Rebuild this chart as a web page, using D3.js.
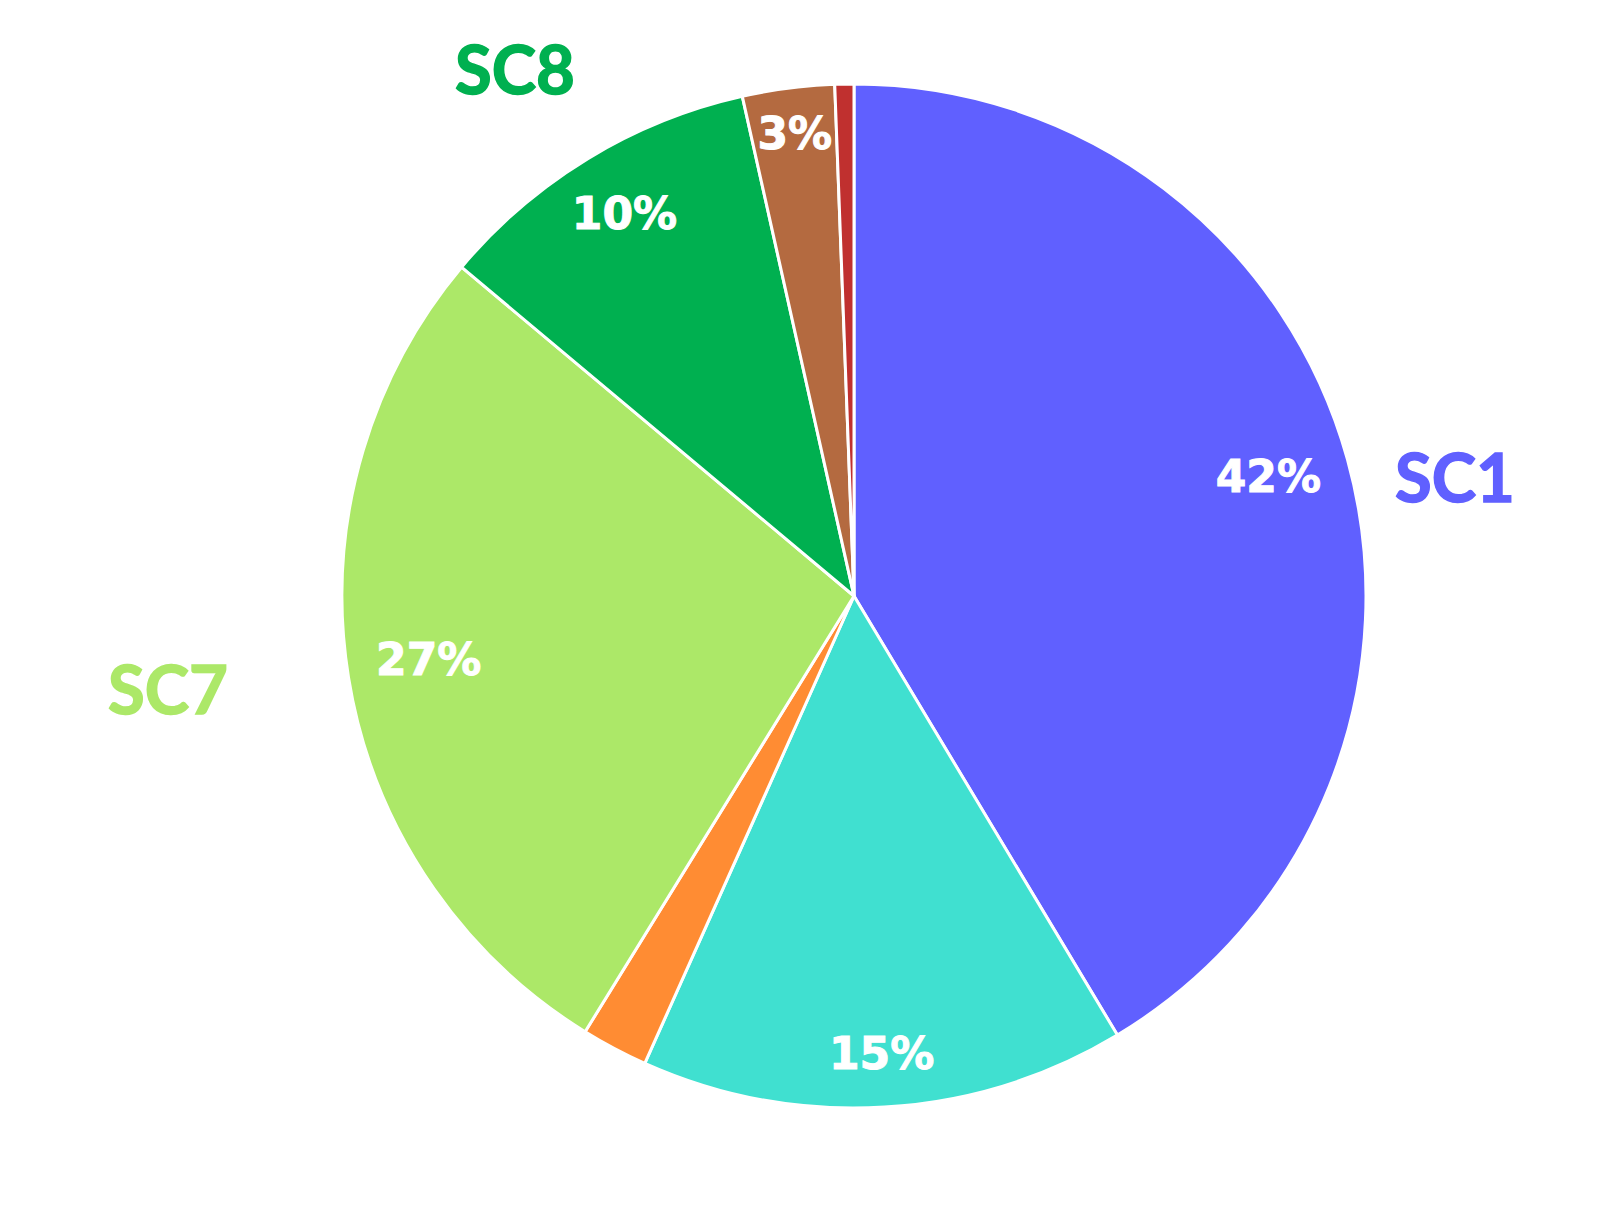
<!DOCTYPE html>
<html>
<head>
<meta charset="utf-8">
<script src="https://cdn.jsdelivr.net/npm/d3@7"></script>
<style>
  body { margin: 0; background: #fff; }
</style>
</head>
<body>
<div id="chart"></div>
<script>
var svgWidth = 1616;
var svgHeight = 1213;

// slice data, clockwise from 12 o'clock
var categories = ["SC1", "SC2", "SC3", "SC7", "SC8", "SC4", "SC5"];
var values = [41.4, 15.3, 2.1, 27.3, 10.4, 2.9, 0.6];
var pctLabels = ["42%", "15%", "", "27%", "10%", "3%", ""];
var colors = ["#6060FF", "#40E0D0", "#FF8C33", "#ACE868", "#00B050", "#B46A40", "#C0302F"];

// category names shown outside the pie
var outerNames = ["SC1", "SC7", "SC8"];
var outerPos = [[1455, 476], [168, 688], [515, 68]];

var cx = 854, cy = 596, radius = 512;

var svg = d3.select("#chart")
    .append("svg")
    .attr("width", svgWidth)
    .attr("height", svgHeight);

var g = svg.append("g")
    .attr("transform", `translate(${cx}, ${cy})`);

var data = categories.map(function(c, i) {
    return { name: c, value: values[i], label: pctLabels[i], color: colors[i] };
});

var pie = d3.pie()
    .value(d => d.value)
    .sort(null);

var arc = d3.arc()
    .innerRadius(0)
    .outerRadius(radius);

var arcs = pie(data);

g.selectAll("path")
    .data(arcs)
    .enter()
    .append("path")
    .attr("d", arc)
    .attr("fill", d => d.data.color)
    .attr("stroke", "#fff")
    .attr("stroke-width", 3)
    .attr("stroke-linejoin", "round");

// "inside end" labels: push each label out along the mid angle
// until its box touches the rim (minus a little padding)
var pad = 26, halfH = 20;
g.selectAll("text.pct")
    .data(arcs)
    .enter()
    .append("text")
    .attr("class", "pct")
    .attr("text-anchor", "middle")
    .attr("dominant-baseline", "central")
    .attr("font-family", "DejaVu Sans, Verdana, sans-serif")
    .attr("font-weight", "bold")
    .attr("font-size", "44px")
    .attr("fill", "#fff")
    .attr("stroke", "#fff")
    .attr("stroke-width", 1)
    .text(d => d.data.label)
    .each(function(d) {
        var a = (d.startAngle + d.endAngle) / 2;
        var halfW = this.getComputedTextLength() / 2;
        var dist = radius - pad - (halfW * Math.abs(Math.sin(a)) + halfH * Math.abs(Math.cos(a)));
        d3.select(this).attr("transform",
            `translate(${dist * Math.sin(a)}, ${-dist * Math.cos(a) - 5})`);
    });

// outer category names
svg.selectAll("text.name")
    .data(outerNames)
    .enter()
    .append("text")
    .attr("class", "name")
    .attr("x", (d, i) => outerPos[i][0])
    .attr("y", (d, i) => outerPos[i][1])
    .attr("text-anchor", "middle")
    .attr("dominant-baseline", "central")
    .attr("font-family", "Lato, Open Sans, sans-serif")
    .attr("font-weight", "bold")
    .attr("font-size", "67px")
    .attr("fill", d => colors[categories.indexOf(d)])
    .attr("stroke", d => colors[categories.indexOf(d)])
    .attr("stroke-width", 1.5)
    .text(d => d);
</script>
</body>
</html>
